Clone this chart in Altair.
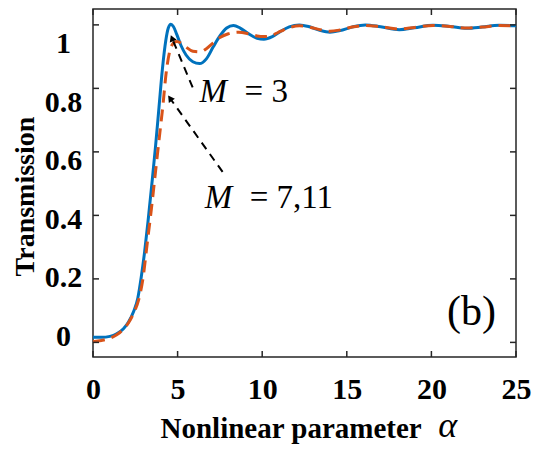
import altair as alt
import pandas as pd

# ---- data ----
alpha_m3 = [0.0, 0.5, 1.0, 1.4, 1.8, 2.1, 2.4, 2.65, 2.85, 3.05, 3.25, 3.5, 3.7, 3.9, 4.1, 4.3, 4.45,
            4.6, 4.75, 4.95, 5.2, 5.5, 5.9, 6.3, 6.7, 7.1, 7.5, 7.9, 8.3, 8.7, 9.2, 9.7, 10.1, 10.6,
            11.1, 11.6, 12.2, 12.8, 13.4, 14.0, 14.6, 15.3, 16.1, 17.0, 18.1, 19.0, 20.1, 21.1, 22.1,
            23.0, 24.0, 25.0]
trans_m3 = [0.016, 0.016, 0.019, 0.027, 0.043, 0.064, 0.097, 0.14, 0.205, 0.285, 0.38, 0.51, 0.62,
            0.74, 0.86, 0.95, 0.99, 1.002, 0.995, 0.97, 0.935, 0.905, 0.884, 0.878, 0.893, 0.93,
            0.965, 0.99, 0.998, 0.99, 0.972, 0.958, 0.955, 0.963, 0.98, 0.994, 1.0, 0.994, 0.983,
            0.977, 0.982, 0.993, 1.0, 0.994, 0.985, 0.991, 0.999, 0.995, 0.989, 0.993, 0.999, 0.997]

alpha_m7 = [0.0, 0.5, 1.0, 1.4, 1.8, 2.1, 2.4, 2.7, 2.95, 3.2, 3.45, 3.7, 3.95, 4.1, 4.35, 4.55,
            4.75, 4.95, 5.2, 5.5, 5.9, 6.3, 6.7, 7.1, 7.5, 8.0, 8.6, 9.2, 9.7, 10.1, 10.6, 11.1,
            11.6, 12.2, 12.8, 13.4, 14.0, 14.6, 15.3, 16.1, 17.0, 18.1, 19.0, 20.1, 21.1, 22.1,
            23.0, 24.0, 25.0]
trans_m7 = [0.002, 0.006, 0.013, 0.024, 0.042, 0.062, 0.092, 0.135, 0.2, 0.31, 0.42, 0.54, 0.66,
            0.73, 0.86, 0.92, 0.942, 0.948, 0.943, 0.93, 0.917, 0.915, 0.925, 0.943, 0.96, 0.972,
            0.977, 0.972, 0.965, 0.963, 0.968, 0.98, 0.991, 0.997, 0.993, 0.985, 0.98, 0.984,
            0.993, 0.998, 0.994, 0.987, 0.992, 0.998, 0.995, 0.99, 0.993, 0.998, 0.997]

x_ticks = [0, 5, 10, 15, 20, 25]
y_ticks = [0, 0.2, 0.4, 0.6, 0.8, 1.0]

# annotation arrows (start -> arrowhead), in data coordinates
arrow_x0 = [5.89, 7.66]
arrow_y0 = [0.803, 0.537]
arrow_x1 = [4.67, 4.55]
arrow_y1 = [0.958, 0.769]
arrow_angle = [338, 324.5]

W, H = 423, 348
FONT = "Liberation Serif"
AXC = "#262626"

xscale = alt.Scale(domain=[0, 25], nice=False, zero=False)
yscale = alt.Scale(domain=[-0.046, 1.05], nice=False, zero=False)

df3 = pd.DataFrame({"alpha": alpha_m3, "T": trans_m3})
df7 = pd.DataFrame({"alpha": alpha_m7, "T": trans_m7})

x_axis = alt.Axis(values=x_ticks, format="d", labelFont=FONT, labelFontSize=30, labelFontWeight="bold",
                  labelColor="black", tickSize=0, domain=False, grid=False, labelPadding=41,
                  labelBaseline="alphabetic", labelAlign="center", labelFlush=False, labelOverlap=False,
                  title="Nonlinear parameter", titleFont=FONT, titleFontSize=29, titleFontWeight="bold",
                  titleColor="black", titleAnchor="start", titleAlign="left", titleX=67, titleY=80,
                  titleBaseline="alphabetic")
y_axis = alt.Axis(values=y_ticks, format=".1~f", labelFont=FONT, labelFontSize=30, labelFontWeight="bold",
                  labelColor="black", tickSize=0, domain=False, grid=False, labelPadding=30,
                  labelAlign="center", labelBaseline="middle", labelFlush=False, labelOverlap=False,
                  labelOffset={"expr": "-6 + 25*datum.value"},
                  title="Transmission", titleFont=FONT, titleFontSize=28, titleFontWeight="bold",
                  titleColor="black", titleAngle=270, titleX=-60, titleY=187, titleAlign="center",
                  titleBaseline="alphabetic")

blue = alt.Chart(df3).mark_line(color="#0072BD", strokeWidth=3, interpolate="monotone").encode(
    x=alt.X("alpha:Q", scale=xscale, axis=x_axis),
    y=alt.Y("T:Q", scale=yscale, axis=y_axis),
)
orange = alt.Chart(df7).mark_line(color="#D95319", strokeWidth=3, strokeDash=[12, 7],
                                  interpolate="monotone").encode(
    x=alt.X("alpha:Q", scale=xscale),
    y=alt.Y("T:Q", scale=yscale),
)

# inward ticks on all four sides
ytdf = pd.DataFrame({"T": y_ticks})
xtdf = pd.DataFrame({"alpha": x_ticks})
tick_style = dict(color=AXC, strokeWidth=1.5)
t_left = alt.Chart(ytdf).mark_rule(**tick_style).encode(
    y=alt.Y("T:Q", scale=yscale), x=alt.value(0), x2=alt.value(6))
t_right = alt.Chart(ytdf).mark_rule(**tick_style).encode(
    y=alt.Y("T:Q", scale=yscale), x=alt.value(W), x2=alt.value(W - 6))
t_bottom = alt.Chart(xtdf).mark_rule(**tick_style).encode(
    x=alt.X("alpha:Q", scale=xscale), y=alt.value(H), y2=alt.value(H - 6))
t_top = alt.Chart(xtdf).mark_rule(**tick_style).encode(
    x=alt.X("alpha:Q", scale=xscale), y=alt.value(0), y2=alt.value(6))

adf = pd.DataFrame({"alpha": arrow_x0, "T": arrow_y0, "alpha2": arrow_x1, "T2": arrow_y1,
                    "ang": arrow_angle})
arrow_lines = alt.Chart(adf).mark_rule(color="black", strokeWidth=2, strokeDash=[8, 6]).encode(
    x=alt.X("alpha:Q", scale=xscale), y=alt.Y("T:Q", scale=yscale),
    x2="alpha2:Q", y2="T2:Q")
arrow_heads = alt.Chart(adf).mark_point(shape="triangle-up", filled=True, color="black", size=55,
                                        opacity=1).encode(
    x=alt.X("alpha2:Q", scale=xscale), y=alt.Y("T2:Q", scale=yscale),
    angle=alt.Angle("ang:Q", scale=None))

# labels
lab_m = pd.DataFrame({"alpha": [6.30, 6.60], "T": [0.757, 0.4236], "txt": ["M", "M"]})
lab_eq = pd.DataFrame({"alpha": [8.96, 9.26], "T": [0.757, 0.4236], "txt": ["= 3", "= 7,11"]})
t_m = alt.Chart(lab_m).mark_text(font=FONT, fontSize=33, fontStyle="italic", align="left",
                                 baseline="alphabetic", color="black").encode(
    x=alt.X("alpha:Q", scale=xscale), y=alt.Y("T:Q", scale=yscale), text="txt:N")
t_eq = alt.Chart(lab_eq).mark_text(font=FONT, fontSize=33, align="left",
                                   baseline="alphabetic", color="black").encode(
    x=alt.X("alpha:Q", scale=xscale), y=alt.Y("T:Q", scale=yscale), text="txt:N")
lab_b = pd.DataFrame({"alpha": [20.92], "T": [0.055], "txt": ["(b)"]})
t_b = alt.Chart(lab_b).mark_text(font=FONT, fontSize=42, align="left", baseline="alphabetic",
                                 color="black").encode(
    x=alt.X("alpha:Q", scale=xscale), y=alt.Y("T:Q", scale=yscale), text="txt:N")
lab_a = pd.DataFrame({"alpha": [20.4], "T": [-0.298], "txt": ["α"]})
t_a = alt.Chart(lab_a).mark_text(font=FONT, fontSize=36, fontStyle="italic", align="left",
                                 baseline="alphabetic", color="black").encode(
    x=alt.X("alpha:Q", scale=xscale), y=alt.Y("T:Q", scale=yscale), text="txt:N")

chart = alt.layer(
    blue, orange, t_left, t_right, t_bottom, t_top, arrow_lines, arrow_heads, t_m, t_eq, t_b, t_a
).properties(
    width=W, height=H,
    autosize=alt.AutoSizeParams(type="none"),
    padding={"left": 93, "top": 9, "right": 22, "bottom": 94},
    background="white",
).configure_view(stroke=AXC, strokeWidth=1.5)

chart.save("out.html", embed_options={"renderer": "svg", "actions": False})
